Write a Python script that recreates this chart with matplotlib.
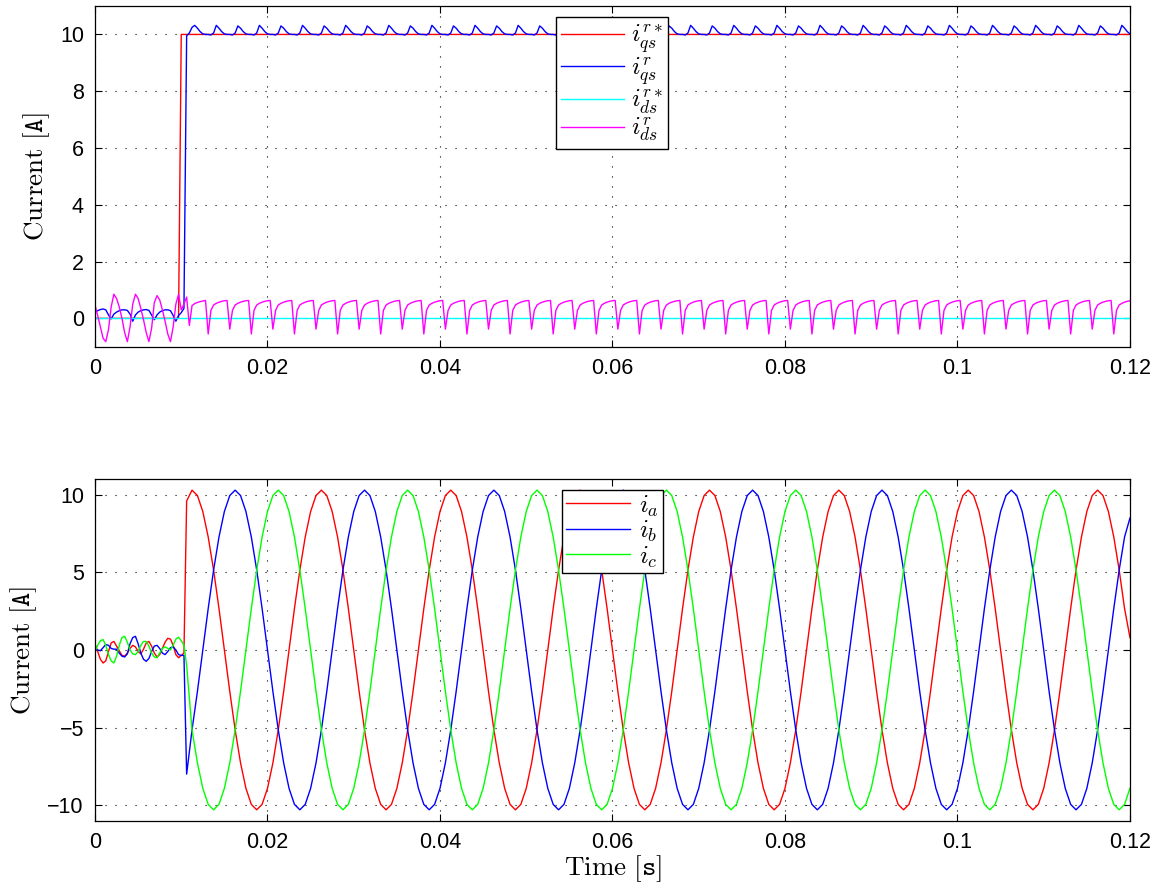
import numpy as np
import matplotlib
matplotlib.use('Agg')
import matplotlib.pyplot as plt
from matplotlib.ticker import FixedLocator, FixedFormatter

plt.rcParams['mathtext.fontset'] = 'cm'
plt.rcParams['font.family'] = ['Liberation Sans', 'DejaVu Sans']

# ---------------- data ----------------
# top plot: sample step 0.0003125 s, samples from 0 to 0.12 s
top_dt = 0.0003125

iqs_ref = [0.0] * 32 + [10.0] * 353
ids_ref = [0.0] * 385

iqs = [0.22, 0.27, 0.31, 0.33, 0.30, 0.12, -0.02, 0.15,
       0.22, 0.27, 0.30, 0.30, 0.28, 0.15, -0.10, 0.12,
       0.22, 0.27, 0.30, 0.31, 0.28, 0.12, -0.05, 0.12,
       0.22, 0.27, 0.30, 0.30, 0.27, 0.10, -0.10, 0.10,
       0.20, 0.35,
       9.95, 10.05, 10.25, 10.32, 10.22, 10.10, 10.02, 10.00,
       # 1-2
       10.00, 9.98, 10.05, 10.32, 10.22, 10.10, 10.02, 10.00,
       10.00, 9.98, 10.05, 10.30, 10.22, 10.10, 10.02, 10.00,
       # 3-4
       10.00, 9.98, 10.05, 10.32, 10.22, 10.10, 10.02, 10.00,
       10.00, 9.98, 10.05, 10.30, 10.22, 10.10, 10.02, 10.00,
       # 5-6
       10.00, 9.98, 10.05, 10.32, 10.22, 10.10, 10.02, 10.00,
       10.00, 9.98, 10.05, 10.30, 10.22, 10.10, 10.02, 10.00,
       # 7-8
       10.00, 9.98, 10.05, 10.32, 10.22, 10.10, 10.02, 10.00,
       10.00, 9.98, 10.05, 10.30, 10.22, 10.10, 10.02, 10.00,
       # 9-10
       10.00, 9.98, 10.05, 10.32, 10.22, 10.10, 10.02, 10.00,
       10.00, 9.98, 10.05, 10.30, 10.22, 10.10, 10.02, 10.00,
       # 11-12
       10.00, 9.98, 10.05, 10.32, 10.22, 10.10, 10.02, 10.00,
       10.00, 9.98, 10.05, 10.30, 10.22, 10.10, 10.02, 10.00,
       # 13-14
       10.00, 9.98, 10.05, 10.32, 10.22, 10.10, 10.02, 10.00,
       10.00, 9.98, 10.05, 10.30, 10.22, 10.10, 10.02, 10.00,
       # 15-16
       10.00, 9.98, 10.05, 10.32, 10.22, 10.10, 10.02, 10.00,
       10.00, 9.98, 10.05, 10.30, 10.22, 10.10, 10.02, 10.00,
       # 17-18
       10.00, 9.98, 10.05, 10.32, 10.22, 10.10, 10.02, 10.00,
       10.00, 9.98, 10.05, 10.30, 10.22, 10.10, 10.02, 10.00,
       # 19-20
       10.00, 9.98, 10.05, 10.32, 10.22, 10.10, 10.02, 10.00,
       10.00, 9.98, 10.05, 10.30, 10.22, 10.10, 10.02, 10.00,
       # 21-22
       10.00, 9.98, 10.05, 10.32, 10.22, 10.10, 10.02, 10.00,
       10.00, 9.98, 10.05, 10.30, 10.22, 10.10, 10.02, 10.00,
       # 23-24
       10.00, 9.98, 10.05, 10.32, 10.22, 10.10, 10.02, 10.00,
       10.00, 9.98, 10.05, 10.30, 10.22, 10.10, 10.02, 10.00,
       # 25-26
       10.00, 9.98, 10.05, 10.32, 10.22, 10.10, 10.02, 10.00,
       10.00, 9.98, 10.05, 10.30, 10.22, 10.10, 10.02, 10.00,
       # 27-28
       10.00, 9.98, 10.05, 10.32, 10.22, 10.10, 10.02, 10.00,
       10.00, 9.98, 10.05, 10.30, 10.22, 10.10, 10.02, 10.00,
       # 29-30
       10.00, 9.98, 10.05, 10.32, 10.22, 10.10, 10.02, 10.00,
       10.00, 9.98, 10.05, 10.30, 10.22, 10.10, 10.02, 10.00,
       # 31-32
       10.00, 9.98, 10.05, 10.32, 10.22, 10.10, 10.02, 10.00,
       10.00, 9.98, 10.05, 10.30, 10.22, 10.10, 10.02, 10.00,
       # 33-34
       10.00, 9.98, 10.05, 10.32, 10.22, 10.10, 10.02, 10.00,
       10.00, 9.98, 10.05, 10.30, 10.22, 10.10, 10.02, 10.00,
       # 35-36
       10.00, 9.98, 10.05, 10.32, 10.22, 10.10, 10.02, 10.00,
       10.00, 9.98, 10.05, 10.30, 10.22, 10.10, 10.02, 10.00,
       # 37-38
       10.00, 9.98, 10.05, 10.32, 10.22, 10.10, 10.02, 10.00,
       10.00, 9.98, 10.05, 10.30, 10.22, 10.10, 10.02, 10.00,
       # 39-40
       10.00, 9.98, 10.05, 10.32, 10.22, 10.10, 10.02, 10.00,
       10.00, 9.98, 10.05, 10.30, 10.22, 10.10, 10.02, 10.00,
       # 41-42
       10.00, 9.98, 10.05, 10.32, 10.22, 10.10, 10.02, 10.00,
       10.00, 9.98, 10.05, 10.30, 10.22, 10.10, 10.02, 10.00,
       # partial
       10.00, 9.98, 10.05, 10.32, 10.22, 10.10, 10.02]

ids = [0.46, 0.10, -0.30, -0.70, -0.82, -0.40, 0.40, 0.85,
       0.70, 0.40, 0.00, -0.50, -0.82, -0.30, 0.50, 0.85,
       0.70, 0.35, -0.05, -0.50, -0.82, -0.35, 0.55, 0.80,
       0.65, 0.30, -0.10, -0.55, -0.82, -0.30, 0.50, 0.85,
       0.30, 0.50, 0.75, -0.25, 0.45, 0.52, 0.56, 0.59,
       0.61, 0.63,
       # 1-2
       -0.55, 0.28, 0.47, 0.53, 0.57, 0.60, 0.62, 0.63,
       -0.38, 0.28, 0.47, 0.53, 0.57, 0.60, 0.62, 0.63,
       # 3-4
       -0.55, 0.28, 0.47, 0.53, 0.57, 0.60, 0.62, 0.63,
       -0.38, 0.28, 0.47, 0.53, 0.57, 0.60, 0.62, 0.63,
       # 5-6
       -0.55, 0.28, 0.47, 0.53, 0.57, 0.60, 0.62, 0.63,
       -0.38, 0.28, 0.47, 0.53, 0.57, 0.60, 0.62, 0.63,
       # 7-8
       -0.55, 0.28, 0.47, 0.53, 0.57, 0.60, 0.62, 0.63,
       -0.38, 0.28, 0.47, 0.53, 0.57, 0.60, 0.62, 0.63,
       # 9-10
       -0.55, 0.28, 0.47, 0.53, 0.57, 0.60, 0.62, 0.63,
       -0.38, 0.28, 0.47, 0.53, 0.57, 0.60, 0.62, 0.63,
       # 11-12
       -0.55, 0.28, 0.47, 0.53, 0.57, 0.60, 0.62, 0.63,
       -0.38, 0.28, 0.47, 0.53, 0.57, 0.60, 0.62, 0.63,
       # 13-14
       -0.55, 0.28, 0.47, 0.53, 0.57, 0.60, 0.62, 0.63,
       -0.38, 0.28, 0.47, 0.53, 0.57, 0.60, 0.62, 0.63,
       # 15-16
       -0.55, 0.28, 0.47, 0.53, 0.57, 0.60, 0.62, 0.63,
       -0.38, 0.28, 0.47, 0.53, 0.57, 0.60, 0.62, 0.63,
       # 17-18
       -0.55, 0.28, 0.47, 0.53, 0.57, 0.60, 0.62, 0.63,
       -0.38, 0.28, 0.47, 0.53, 0.57, 0.60, 0.62, 0.63,
       # 19-20
       -0.55, 0.28, 0.47, 0.53, 0.57, 0.60, 0.62, 0.63,
       -0.38, 0.28, 0.47, 0.53, 0.57, 0.60, 0.62, 0.63,
       # 21-22
       -0.55, 0.28, 0.47, 0.53, 0.57, 0.60, 0.62, 0.63,
       -0.38, 0.28, 0.47, 0.53, 0.57, 0.60, 0.62, 0.63,
       # 23-24
       -0.55, 0.28, 0.47, 0.53, 0.57, 0.60, 0.62, 0.63,
       -0.38, 0.28, 0.47, 0.53, 0.57, 0.60, 0.62, 0.63,
       # 25-26
       -0.55, 0.28, 0.47, 0.53, 0.57, 0.60, 0.62, 0.63,
       -0.38, 0.28, 0.47, 0.53, 0.57, 0.60, 0.62, 0.63,
       # 27-28
       -0.55, 0.28, 0.47, 0.53, 0.57, 0.60, 0.62, 0.63,
       -0.38, 0.28, 0.47, 0.53, 0.57, 0.60, 0.62, 0.63,
       # 29-30
       -0.55, 0.28, 0.47, 0.53, 0.57, 0.60, 0.62, 0.63,
       -0.38, 0.28, 0.47, 0.53, 0.57, 0.60, 0.62, 0.63,
       # 31-32
       -0.55, 0.28, 0.47, 0.53, 0.57, 0.60, 0.62, 0.63,
       -0.38, 0.28, 0.47, 0.53, 0.57, 0.60, 0.62, 0.63,
       # 33-34
       -0.55, 0.28, 0.47, 0.53, 0.57, 0.60, 0.62, 0.63,
       -0.38, 0.28, 0.47, 0.53, 0.57, 0.60, 0.62, 0.63,
       # 35-36
       -0.55, 0.28, 0.47, 0.53, 0.57, 0.60, 0.62, 0.63,
       -0.38, 0.28, 0.47, 0.53, 0.57, 0.60, 0.62, 0.63,
       # 37-38
       -0.55, 0.28, 0.47, 0.53, 0.57, 0.60, 0.62, 0.63,
       -0.38, 0.28, 0.47, 0.53, 0.57, 0.60, 0.62, 0.63,
       # 39-40
       -0.55, 0.28, 0.47, 0.53, 0.57, 0.60, 0.62, 0.63,
       -0.38, 0.28, 0.47, 0.53, 0.57, 0.60, 0.62, 0.63,
       # 41-42
       -0.55, 0.28, 0.47, 0.53, 0.57, 0.60, 0.62, 0.63,
       -0.38, 0.28, 0.47, 0.53, 0.57, 0.60, 0.62, 0.63,
       # partial
       -0.55, 0.28, 0.47, 0.53, 0.57, 0.60, 0.62]

# bottom plot: 34 samples every 0.0003125 s before the step,
# then samples every 0.000625 s from 0.010625 s to 0.12 s
pre_dt = 0.0003125
pre_n = 34
post_t0 = 0.010625
post_dt = 0.000625

ia = [0.40, -0.10, -0.60, -0.84, -0.70, -0.10, 0.45, 0.55,
      0.25, -0.05, -0.35, -0.40, -0.20, 0.10, 0.30, 0.20,
      -0.10, -0.25, 0.05, 0.45, 0.55, 0.25, -0.20, -0.45,
      -0.30, 0.10, 0.50, 0.75, 0.70, 0.30, -0.30, -0.50,
      -0.35, -0.20,
      9.60, 10.3, 9.95, 8.92, 7.28, 5.15, 2.67, 0.0, -2.67, -5.15, -7.28, -8.92,
      -9.95, -10.3, -9.95, -8.92, -7.28, -5.15, -2.67, 0.0, 2.67, 5.15, 7.28, 8.92,
      9.95, 10.3, 9.95, 8.92, 7.28, 5.15, 2.67, 0.0, -2.67, -5.15, -7.28, -8.92,
      -9.95, -10.3, -9.95, -8.92, -7.28, -5.15, -2.67, 0.0, 2.67, 5.15, 7.28, 8.92,
      9.95, 10.3, 9.95, 8.92, 7.28, 5.15, 2.67, 0.0, -2.67, -5.15, -7.28, -8.92,
      -9.95, -10.3, -9.95, -8.92, -7.28, -5.15, -2.67, 0.0, 2.67, 5.15, 7.28, 8.92,
      9.95, 10.3, 9.95, 8.92, 7.28, 5.15, 2.67, 0.0, -2.67, -5.15, -7.28, -8.92,
      -9.95, -10.3, -9.95, -8.92, -7.28, -5.15, -2.67, 0.0, 2.67, 5.15, 7.28, 8.92,
      9.95, 10.3, 9.95, 8.92, 7.28, 5.15, 2.67, 0.0, -2.67, -5.15, -7.28, -8.92,
      -9.95, -10.3, -9.95, -8.92, -7.28, -5.15, -2.67, 0.0, 2.67, 5.15, 7.28, 8.92,
      9.95, 10.3, 9.95, 8.92, 7.28, 5.15, 2.67, 0.0, -2.67, -5.15, -7.28, -8.92,
      -9.95, -10.3, -9.95, -8.92, -7.28, -5.15, -2.67, 0.0, 2.67, 5.15, 7.28, 8.92,
      9.95, 10.3, 9.95, 8.92, 7.28, 5.15, 2.67, 0.0, -2.67, -5.15, -7.28, -8.92,
      -9.95, -10.3, -9.95, -8.92, -7.28, -5.15, -2.67, 0.0, 2.67, 5.15, 7.28, 8.92,
      9.95, 10.3, 9.95, 8.92, 7.28, 5.15, 2.67, 0.8]

ib = [0.10, 0.00, -0.05, 0.15, 0.35, 0.30, 0.10, 0.05,
      0.05, -0.20, -0.40, -0.45, -0.25, 0.40, 0.80, 0.88,
      0.40, -0.20, -0.60, -0.73, -0.55, -0.10, 0.25, 0.30,
      0.10, -0.20, -0.30, -0.10, 0.15, 0.20, 0.00, -0.30,
      -0.35, -0.35,
      -8.0, -5.15, -2.67, 0.0, 2.67, 5.15, 7.28, 8.92, 9.95, 10.3, 9.95, 8.92,
      7.28, 5.15, 2.67, 0.0, -2.67, -5.15, -7.28, -8.92, -9.95, -10.3, -9.95, -8.92,
      -7.28, -5.15, -2.67, 0.0, 2.67, 5.15, 7.28, 8.92, 9.95, 10.3, 9.95, 8.92,
      7.28, 5.15, 2.67, 0.0, -2.67, -5.15, -7.28, -8.92, -9.95, -10.3, -9.95, -8.92,
      -7.28, -5.15, -2.67, 0.0, 2.67, 5.15, 7.28, 8.92, 9.95, 10.3, 9.95, 8.92,
      7.28, 5.15, 2.67, 0.0, -2.67, -5.15, -7.28, -8.92, -9.95, -10.3, -9.95, -8.92,
      -7.28, -5.15, -2.67, 0.0, 2.67, 5.15, 7.28, 8.92, 9.95, 10.3, 9.95, 8.92,
      7.28, 5.15, 2.67, 0.0, -2.67, -5.15, -7.28, -8.92, -9.95, -10.3, -9.95, -8.92,
      -7.28, -5.15, -2.67, 0.0, 2.67, 5.15, 7.28, 8.92, 9.95, 10.3, 9.95, 8.92,
      7.28, 5.15, 2.67, 0.0, -2.67, -5.15, -7.28, -8.92, -9.95, -10.3, -9.95, -8.92,
      -7.28, -5.15, -2.67, 0.0, 2.67, 5.15, 7.28, 8.92, 9.95, 10.3, 9.95, 8.92,
      7.28, 5.15, 2.67, 0.0, -2.67, -5.15, -7.28, -8.92, -9.95, -10.3, -9.95, -8.92,
      -7.28, -5.15, -2.67, 0.0, 2.67, 5.15, 7.28, 8.92, 9.95, 10.3, 9.95, 8.92,
      7.28, 5.15, 2.67, 0.0, -2.67, -5.15, -7.28, -8.92, -9.95, -10.3, -9.95, -8.92,
      -7.28, -5.15, -2.67, 0.0, 2.67, 5.15, 7.28, 8.5]

ic = [-0.10, 0.30, 0.60, 0.67, 0.30, -0.30, -0.70, -0.84,
      -0.40, 0.30, 0.80, 0.88, 0.50, 0.00, -0.25, -0.30,
      -0.10, 0.30, 0.55, 0.55, 0.25, -0.20, -0.45, -0.50,
      -0.20, 0.10, 0.20, 0.10, 0.00, 0.30, 0.70, 0.82,
      0.60, 0.30,
      -1.0, -5.15, -7.28, -8.92, -9.95, -10.3, -9.95, -8.92, -7.28, -5.15, -2.67, 0.0,
      2.67, 5.15, 7.28, 8.92, 9.95, 10.3, 9.95, 8.92, 7.28, 5.15, 2.67, 0.0,
      -2.67, -5.15, -7.28, -8.92, -9.95, -10.3, -9.95, -8.92, -7.28, -5.15, -2.67, 0.0,
      2.67, 5.15, 7.28, 8.92, 9.95, 10.3, 9.95, 8.92, 7.28, 5.15, 2.67, 0.0,
      -2.67, -5.15, -7.28, -8.92, -9.95, -10.3, -9.95, -8.92, -7.28, -5.15, -2.67, 0.0,
      2.67, 5.15, 7.28, 8.92, 9.95, 10.3, 9.95, 8.92, 7.28, 5.15, 2.67, 0.0,
      -2.67, -5.15, -7.28, -8.92, -9.95, -10.3, -9.95, -8.92, -7.28, -5.15, -2.67, 0.0,
      2.67, 5.15, 7.28, 8.92, 9.95, 10.3, 9.95, 8.92, 7.28, 5.15, 2.67, 0.0,
      -2.67, -5.15, -7.28, -8.92, -9.95, -10.3, -9.95, -8.92, -7.28, -5.15, -2.67, 0.0,
      2.67, 5.15, 7.28, 8.92, 9.95, 10.3, 9.95, 8.92, 7.28, 5.15, 2.67, 0.0,
      -2.67, -5.15, -7.28, -8.92, -9.95, -10.3, -9.95, -8.92, -7.28, -5.15, -2.67, 0.0,
      2.67, 5.15, 7.28, 8.92, 9.95, 10.3, 9.95, 8.92, 7.28, 5.15, 2.67, 0.0,
      -2.67, -5.15, -7.28, -8.92, -9.95, -10.3, -9.95, -8.92, -7.28, -5.15, -2.67, 0.0,
      2.67, 5.15, 7.28, 8.92, 9.95, 10.3, 9.95, 8.92, 7.28, 5.15, 2.67, 0.0,
      -2.67, -5.15, -7.28, -8.92, -9.95, -10.3, -9.95, -8.92]

x_ticks = [0, 0.02, 0.04, 0.06, 0.08, 0.1, 0.12]
x_tick_labels = ['0', '0.02', '0.04', '0.06', '0.08', '0.1', '0.12']
top_yticks = [0, 2, 4, 6, 8, 10]
bot_yticks = [-10, -5, 0, 5, 10]

top_labels = [r'$i_{qs}^{r*}$', r'$i_{qs}^{r}$', r'$i_{ds}^{r*}$', r'$i_{ds}^{r}$']
bot_labels = [r'$i_a$', r'$i_b$', r'$i_c$']


# ---------------- drawing ----------------
def top_time(series):
    return np.arange(len(series)) * top_dt


def bot_time(series):
    n_post = len(series) - pre_n
    return np.concatenate([np.arange(pre_n) * pre_dt, post_t0 + np.arange(n_post) * post_dt])


fig = plt.figure(figsize=(11.6, 8.9), dpi=100)
ax1 = fig.add_axes([0.0819, 0.6104, 0.8922, 0.3828])
ax2 = fig.add_axes([0.0819, 0.0779, 0.8922, 0.3836])

lw = 1.0
ax1.plot(top_time(iqs_ref), iqs_ref, color='#ff0000', lw=lw, label=top_labels[0])
ax1.plot(top_time(iqs), iqs, color='#0000ff', lw=lw, label=top_labels[1])
ax1.plot(top_time(ids_ref), ids_ref, color='#00ffff', lw=lw, label=top_labels[2])
ax1.plot(top_time(ids), ids, color='#ff00ff', lw=lw, label=top_labels[3])

ax2.plot(bot_time(ia), ia, color='#ff0000', lw=lw, label=bot_labels[0])
ax2.plot(bot_time(ib), ib, color='#0000ff', lw=lw, label=bot_labels[1])
ax2.plot(bot_time(ic), ic, color='#00ff00', lw=lw, label=bot_labels[2])

for ax, yt, yl in [(ax1, top_yticks, (-1, 11)), (ax2, bot_yticks, (-11, 11))]:
    ax.set_xlim(0, 0.12)
    ax.set_ylim(*yl)
    ax.xaxis.set_major_locator(FixedLocator(x_ticks))
    ax.xaxis.set_major_formatter(FixedFormatter(x_tick_labels))
    ax.set_yticks(yt)
    ax.tick_params(direction='in', top=True, right=True, length=5, width=0.8,
                   labelsize=15.5, pad=8)
    ax.grid(True, color='black', linestyle=(0, (1, 8)), linewidth=0.8)
    for sp in ax.spines.values():
        sp.set_linewidth(0.9)
    ax.set_ylabel(r'$\mathrm{Current}\ [\mathtt{A}]$', fontsize=19.5, labelpad=6)

ax2.set_xlabel(r'$\mathrm{Time}\ [\mathtt{s}]$', fontsize=19.5, labelpad=0)

leg1 = ax1.legend(loc='upper center', fontsize=18, frameon=True, fancybox=False,
                  framealpha=1, edgecolor='black', handlelength=2.5,
                  handletextpad=0.3, borderaxespad=0.45, labelspacing=0.0,
                  borderpad=0.2)
leg1.get_frame().set_linewidth(1.0)
leg2 = ax2.legend(loc='upper center', fontsize=18.5, frameon=True, fancybox=False,
                  framealpha=1, edgecolor='black', handlelength=2.5,
                  handletextpad=0.35, borderaxespad=0.4, labelspacing=0.0,
                  borderpad=0.15)
leg2.get_frame().set_linewidth(1.0)

fig.savefig('out.png', dpi=100)
